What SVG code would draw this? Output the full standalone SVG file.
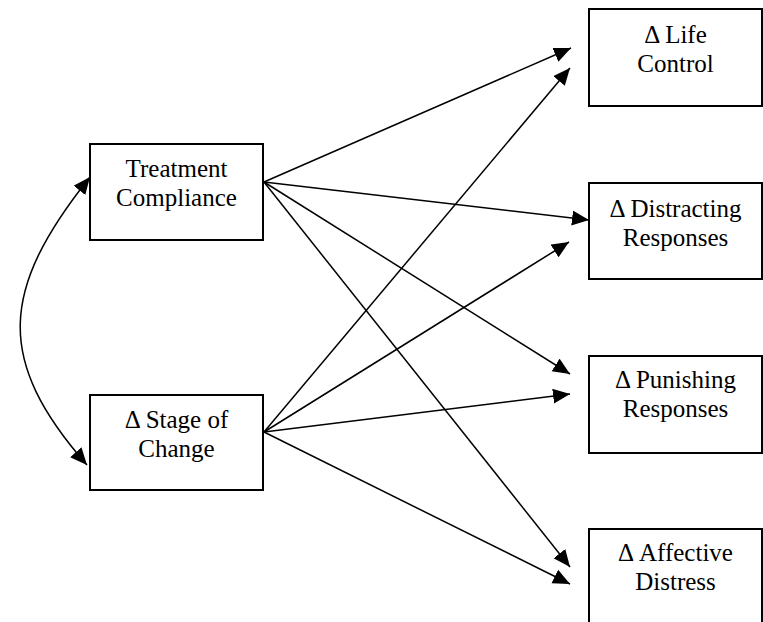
<svg xmlns="http://www.w3.org/2000/svg" width="763" height="622" viewBox="0 0 763 622">
<style>
.box{fill:#fff;stroke:#000;stroke-width:2}
.lbl{font-family:"Liberation Serif","Times New Roman","DejaVu Serif",serif;font-size:25px;fill:#000;text-anchor:middle}
.edge{fill:none;stroke:#000;stroke-width:1.5}
</style>
<defs>
<marker id="ah" markerUnits="userSpaceOnUse" markerWidth="20" markerHeight="16" refX="17" refY="7.5" orient="auto-start-reverse" viewBox="0 0 20 16">
<path d="M0,0 L17,7.5 L0,15 z" fill="#000"/>
</marker>
</defs>
<rect width="763" height="622" fill="#fff"/>
<g id="connectors">
<path class="edge" d="M90,177 C0,290 -5,360 87,465" marker-start="url(#ah)" marker-end="url(#ah)"/>
<line class="edge" x1="264" y1="182" x2="571" y2="48" marker-end="url(#ah)"/>
<line class="edge" x1="264" y1="182" x2="589" y2="220" marker-end="url(#ah)"/>
<line class="edge" x1="264" y1="182" x2="570" y2="374" marker-end="url(#ah)"/>
<line class="edge" x1="264" y1="182" x2="570" y2="567" marker-end="url(#ah)"/>
<line class="edge" x1="264" y1="432" x2="570" y2="68" marker-end="url(#ah)"/>
<line class="edge" x1="264" y1="432" x2="569" y2="242" marker-end="url(#ah)"/>
<line class="edge" x1="264" y1="432" x2="570" y2="394" marker-end="url(#ah)"/>
<line class="edge" x1="264" y1="432" x2="570" y2="584" marker-end="url(#ah)"/>
</g>
<g id="treatment">
<rect class="box" x="90" y="144" width="173" height="96"/>
<text class="lbl" x="176.5" y="177">Treatment</text>
<text class="lbl" x="176.5" y="206">Compliance</text>
</g>
<g id="stage">
<rect class="box" x="90" y="395" width="173" height="95"/>
<text class="lbl" x="176.5" y="428">Δ Stage of</text>
<text class="lbl" x="176.5" y="457">Change</text>
</g>
<g id="life">
<rect class="box" x="589" y="9" width="173" height="97"/>
<text class="lbl" x="675.5" y="43">Δ Life</text>
<text class="lbl" x="675.5" y="72">Control</text>
</g>
<g id="distracting">
<rect class="box" x="589" y="183" width="173" height="96"/>
<text class="lbl" x="675.5" y="217">Δ Distracting</text>
<text class="lbl" x="675.5" y="246">Responses</text>
</g>
<g id="punishing">
<rect class="box" x="589" y="356" width="173" height="97"/>
<text class="lbl" x="675.5" y="388">Δ Punishing</text>
<text class="lbl" x="675.5" y="417">Responses</text>
</g>
<g id="affective">
<rect class="box" x="589" y="529" width="173" height="100"/>
<text class="lbl" x="675.5" y="561">Δ Affective</text>
<text class="lbl" x="675.5" y="590">Distress</text>
</g>
</svg>
